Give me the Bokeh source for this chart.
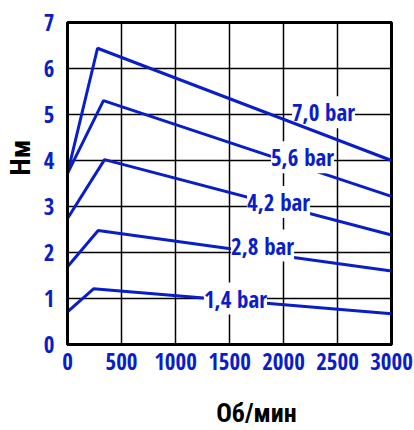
from bokeh.plotting import figure
from bokeh.models import Range1d, FixedTicker, Label
from bokeh.embed import file_html
from bokeh.resources import INLINE

# Data (rpm vs torque Nm)
rpm_70 = [0, 278, 3000]
nm_70 = [3.72, 6.44, 4.00]
rpm_56 = [0, 333, 3000]
nm_56 = [3.72, 5.30, 3.22]
rpm_42 = [0, 343, 3000]
nm_42 = [2.74, 4.02, 2.38]
rpm_28 = [0, 284, 3000]
nm_28 = [1.69, 2.48, 1.60]
rpm_14 = [0, 241, 3000]
nm_14 = [0.71, 1.21, 0.67]

series_labels = ["7,0 bar", "5,6 bar", "4,2 bar", "2,8 bar", "1,4 bar"]
label_x = [2370, 2176, 1954, 1806, 1555]
label_y = [5.05, 4.07, 3.1, 2.15, 1.0]

x_ticks = [0, 500, 1000, 1500, 2000, 2500, 3000]
y_ticks = [0, 1, 2, 3, 4, 5, 6, 7]

x_title = "Об/мин"
y_title = "Нм"

BLUE = "#0a1ec8"
FONT = "Open Sans Condensed"
TITLE_FONT = "Roboto Condensed"
NBSP = "\u00a0"

p = figure(width=414, height=430,
           x_range=Range1d(0, 3000), y_range=Range1d(0, 7),
           output_backend="svg", toolbar_location=None,
           min_border_left=67, min_border_top=22, min_border_right=23,
           min_border_bottom=84)

p.outline_line_color = "black"
p.outline_line_width = 3
p.background_fill_color = "white"
p.border_fill_color = "white"

for ax in (p.xaxis[0], p.yaxis[0]):
    ax.major_tick_line_color = None
    ax.minor_tick_line_color = None
    ax.axis_line_color = "black"
    ax.axis_line_width = 3
    ax.major_label_text_color = BLUE
    ax.major_label_text_font = FONT
    ax.major_label_text_font_style = "bold"
    ax.major_label_text_font_size = "23px"
    ax.axis_label_text_color = "black"
    ax.axis_label_text_font = TITLE_FONT
    ax.axis_label_text_font_style = "bold"

p.xaxis.ticker = FixedTicker(ticks=x_ticks)
p.yaxis.ticker = FixedTicker(ticks=y_ticks)
p.xaxis.major_label_standoff = 2
p.yaxis.major_label_standoff = 7
# leading no-break spaces shift the centred titles off-centre as in the original
p.xaxis.axis_label = NBSP * 9 + x_title
p.yaxis.axis_label = NBSP * 8 + y_title
p.xaxis.axis_label_text_font_size = "26px"
p.yaxis.axis_label_text_font_size = "28px"
p.xaxis.axis_label_standoff = 25
p.yaxis.axis_label_standoff = 4

p.xgrid.ticker = FixedTicker(ticks=x_ticks)
p.ygrid.ticker = FixedTicker(ticks=y_ticks)
for g in (p.xgrid[0], p.ygrid[0]):
    g.grid_line_color = "black"
    g.grid_line_width = 1.5
    g.grid_line_alpha = 1.0

# series labels (7,0 sits under its line, the others hide the line)
for i, (t, lx, ly) in enumerate(zip(series_labels, label_x, label_y)):
    p.add_layout(Label(x=lx, y=ly, text=t, text_align="center",
                       text_baseline="middle", text_color=BLUE,
                       text_font=FONT, text_font_style="bold",
                       text_font_size="23px",
                       background_fill_color="white", padding=0,
                       level="underlay" if i == 0 else "annotation"))

for xs, ys in [(rpm_70, nm_70), (rpm_56, nm_56), (rpm_42, nm_42),
               (rpm_28, nm_28), (rpm_14, nm_14)]:
    p.line(xs, ys, line_color=BLUE, line_width=3)

open("out.html", "w").write(file_html(p, INLINE))
